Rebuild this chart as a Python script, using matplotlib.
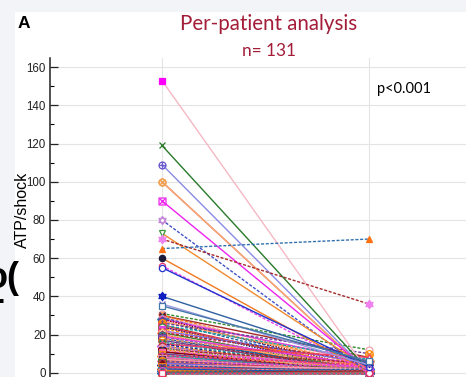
import numpy as np
import matplotlib
matplotlib.use("Agg")
import matplotlib.pyplot as plt
from matplotlib.path import Path
from matplotlib.patches import Rectangle

# ---- data: ATP per shock before / after, one entry per patient ----
before_top = [153, 119, 109, 100, 100, 90, 80, 73, 70, 65, 60, 56, 55, 40, 36, 35]
after_top = [0, 1, 0, 0, 0, 1, 0, 2, 36, 70, 0, 0, 3, 5, 4, 6]

before_rest = [31, 30, 30, 29, 29, 28, 28, 27, 27, 26,
               25, 25, 24, 24, 23, 22, 22, 21, 21, 20,
               20, 19, 19, 18, 18, 18, 17, 16, 16, 15,
               15, 14, 14, 13, 13, 12, 12, 12, 11, 11,
               11, 10, 10, 10, 9, 9, 9, 8, 8, 8,
               8, 7, 7, 7, 7, 6, 6, 6, 6, 6,
               6, 5, 5, 5, 5, 5, 5, 4, 4, 4,
               4, 4, 4, 3, 3, 3, 3, 3, 3, 3,
               3, 2, 2, 2, 2, 2, 2, 2, 2, 2,
               1, 1, 1, 1, 1, 1, 1, 1, 1, 1,
               0, 0, 0, 0, 0, 0, 0, 0, 0, 0,
               0, 0, 0, 0, 0]
after_rest = [12, 8, 3, 5, 0, 6, 2, 0, 4, 10,
              0, 7, 2, 0, 3, 5, 0, 1, 6, 0,
              2, 0, 4, 0, 1, 3, 0, 2, 0, 8,
              0, 1, 0, 2, 0, 5, 0, 1, 0, 3,
              0, 0, 2, 0, 1, 0, 4, 0, 0, 1,
              0, 2, 0, 0, 1, 0, 3, 0, 0, 0,
              1, 0, 0, 2, 0, 0, 0, 1, 0, 0,
              0, 2, 0, 0, 0, 1, 0, 0, 0, 0,
              0, 1, 0, 0, 0, 0, 0, 0, 1, 0,
              0, 0, 0, 0, 0, 0, 0, 0, 0, 0,
              0, 0, 0, 1, 0, 0, 0, 0, 0, 2,
              0, 0, 0, 0, 0]

before = before_top + before_rest
after = after_top + after_rest
n_patients = len(before)

y_ticks = [0, 20, 40, 60, 80, 100, 120, 140, 160]

# ---- marker shapes ----
def hexagram():
    a = np.deg2rad(90 + np.arange(3) * 120)
    t1 = np.c_[np.cos(a), np.sin(a)]
    t2 = -t1
    verts = np.vstack([t1, t1[:1], t2, t2[:1]])
    codes = [Path.MOVETO, Path.LINETO, Path.LINETO, Path.CLOSEPOLY] * 2
    return Path(verts, codes)


def with_cross(outline, diagonal):
    d = 0.71 if diagonal else 1.0
    segs = ([(-d, -d), (d, d)], [(-d, d), (d, -d)]) if diagonal else \
           ([(-1, 0), (1, 0)], [(0, -1), (0, 1)])
    verts = list(outline.vertices)
    codes = list(outline.codes)
    for p0, p1 in segs:
        verts += [p0, p1]
        codes += [Path.MOVETO, Path.LINETO]
    return Path(verts, codes)


CIRCLE = Path.unit_circle()
SQUARE = Path([(-1, -1), (1, -1), (1, 1), (-1, 1), (-1, -1)],
              [Path.MOVETO, Path.LINETO, Path.LINETO, Path.LINETO, Path.CLOSEPOLY])
HEX = hexagram()
OPLUS = with_cross(CIRCLE, False)
OTIMES = with_cross(CIRCLE, True)
BOXX = with_cross(SQUARE, True)
OPEN_ONLY = (OPLUS, OTIMES, BOXX)

# line colour, linestyle, marker, marker colour, filled
top_styles = [
    ('#f5b8c4', '-', 's', '#ff00ff', True),
    ('#2a7a2a', '-', 'x', '#2a7a2a', True),
    ('#8a8ae6', '-', OPLUS, '#6a5acd', True),
    ('#ee3b6a', '-', OTIMES, '#f0a050', True),
    ('#f5b070', '-', OTIMES, '#f0a050', True),
    ('#ee22ee', '-', BOXX, '#ee22ee', True),
    ('#3f51c8', '--', HEX, '#c58bd8', False),
    ('#f08a30', '-', 'v', '#3a9a3a', False),
    ('#a52a2a', '--', HEX, '#ee82ee', True),
    ('#3070b0', '--', '^', '#ff7010', True),
    ('#f07820', '-', 'o', '#1a1a3a', True),
    ('#ee44ee', '--', 'o', '#ee3070', False),
    ('#2233cc', '-', 'o', '#2233cc', False),
    ('#2e5fa0', '-', HEX, '#1020c0', True),
    ('#9a9ae0', '-', 'x', '#8060c0', True),
    ('#4477aa', '-', 's', '#4477aa', False),
]

palette = ['#2e8b2e', '#a52a2a', '#ff7f0e', '#f4a0b0', '#1f4fbf', '#e040e0',
           '#8b0000', '#2060a0', '#ffa060', '#6a3d9a', '#c03030', '#20a0a0',
           '#ee3b6a', '#1a237e', '#ff8c00', '#7b68ee', '#ff69b4']
line_cycle = ['--', '-', '--', '-', '--', '-', ':']
marker_cycle = [('o', False), ('s', True), ('x', True), ('^', False), ('v', False),
                ('D', False), ('o', True), (HEX, False), (OPLUS, True),
                (OTIMES, True), ('s', False), ('^', True), (BOXX, True)]

W, H = 466, 377
fig = plt.figure(figsize=(W / 100, H / 100), dpi=100)
fig.patch.set_facecolor('#f2f4f8')
fig.patches.append(Rectangle((15 / W, 0), 1 - 15 / W, 1 - 12 / H,
                             transform=fig.transFigure, facecolor='white',
                             edgecolor='none', zorder=-5))

ax = fig.add_axes([50 / W, 0, 1 - 50 / W, (H - 58) / H])
ax.set_facecolor('none')
ax.set_xlim(0.459, 2.469)
ax.set_ylim(-2.25, 164.8)

for y in y_ticks:
    ax.axhline(y, color='#e4e4e4', lw=0.8, zorder=0)
for x in (1, 2):
    ax.axvline(x, color='#e4e4e4', lw=0.8, zorder=0)


def draw_pair(b, a, color, ls, marker, mcolor, filled, z, ms=4.5):
    if marker is HEX:
        ms += 1.5
    if any(marker is m for m in OPEN_ONLY):
        face = 'none'
        ms += 0.5
    else:
        face = mcolor if filled else 'white'
    kw = dict(marker=marker, markersize=ms, markeredgewidth=0.9,
              markeredgecolor=mcolor, markerfacecolor=face)
    if ls == '--':
        dash = dict(linestyle=(0, (2.2, 1.2)))
    elif ls == ':':
        dash = dict(linestyle=(0, (1, 1)))
    else:
        dash = dict(linestyle='-')
    ax.plot([1, 2], [b, a], color=color, lw=1.0, zorder=z, **dash, **kw)


# lower cluster first, prominent patients on top
for i, (b, a) in enumerate(zip(before_rest, after_rest)):
    m, f = marker_cycle[i % len(marker_cycle)]
    col = palette[i % len(palette)]
    mcol = palette[(i * 5 + 3) % len(palette)]
    draw_pair(b, a, col, line_cycle[i % len(line_cycle)], m, mcol, f, 2, ms=5)

for (b, a), st in zip(zip(before_top, after_top), top_styles):
    draw_pair(b, a, *st, 3)

ax.set_yticks(y_ticks)
ax.set_yticks(np.arange(10, 170, 20), minor=True)
ax.set_xticks([])
ax.tick_params(axis='y', which='major', direction='in', length=6, width=0.9,
               labelsize=8.3, pad=3, colors='#222222')
ax.tick_params(axis='y', which='minor', direction='in', length=3, width=0.8)
for lab in ax.get_yticklabels():
    lab.set_family('Liberation Sans')
for s in ('top', 'right', 'bottom'):
    ax.spines[s].set_visible(False)
ax.spines['left'].set_linewidth(1.1)
ax.spines['left'].set_color('#222222')

# titles and annotations
fig.text(269 / W, 1 - 24 / H, 'Per-patient analysis', ha='center', va='center',
         color='#a31d38', fontsize=14.8, family='Lato')
fig.text(269 / W, 1 - 51 / H, 'n= 131', ha='center', va='center',
         color='#a31d38', fontsize=12.4, family='Lato')
fig.text(24 / W, 1 - 24 / H, 'A', ha='center', va='center', fontsize=12.5,
         weight='bold', family='Liberation Sans')
fig.text(404 / W, 1 - 89 / H, 'p<0.001', ha='center', va='center',
         fontsize=10.5, family='Lato')
fig.text(22 / W, 1 - 210 / H, 'ATP/shock', ha='center', va='center',
         rotation=90, fontsize=11.5, family='Liberation Sans')

# neighbouring page content clipped at the left margin
fig.text(-14 / W, 1 - 288 / H, 'o(', ha='left', va='baseline', fontsize=26,
         weight='bold', family='Liberation Sans')
fig.text(-7 / W, 1 - 310 / H, '-', ha='left', va='baseline', fontsize=26,
         weight='bold', family='Liberation Sans')

fig.savefig('out.png', dpi=100, facecolor=fig.get_facecolor())
